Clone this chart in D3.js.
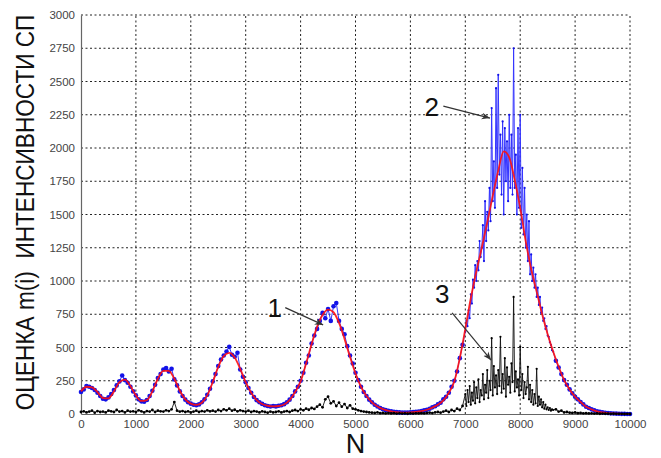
<!DOCTYPE html>
<html>
<head>
<meta charset="utf-8">
<script src="https://cdn.jsdelivr.net/npm/d3@7"></script>
<style>
  body { margin: 0; background: #fff; }
  svg { display: block; font-family: Arial, "Liberation Sans", sans-serif; }
</style>
</head>
<body>
<div id="chart"></div>
<script>
// axis ticks
const xTicks = [0, 1000, 2000, 3000, 4000, 5000, 6000, 7000, 8000, 9000, 10000];
const yTicks = [0, 250, 500, 750, 1000, 1250, 1500, 1750, 2000, 2250, 2500, 2750, 3000];

// curve 1 (red) - true intensity, one value every 100 samples
const redStep = 100;
const redValues = [
  170, 205, 200, 165, 120, 118, 170, 240, 258, 210,
  140, 98, 105, 170, 265, 325, 325, 265, 175, 110,
  78, 68, 85, 140, 240, 355, 435, 460, 425, 340,
  240, 160, 105, 75, 62, 58, 60, 72, 105, 165,
  245, 380, 525, 655, 745, 785, 765, 685, 565, 430,
  305, 205, 135, 88, 56, 36, 24, 16, 12, 10,
  12, 16, 22, 32, 48, 70, 102, 160, 245, 420,
  640, 870, 1070, 1250, 1440, 1640, 1830, 1975, 1930, 1760,
  1550, 1300, 1090, 920, 750, 600, 470, 355, 255, 185,
  130, 90, 55, 35, 20, 12, 7, 4, 2, 1,
  0
];

// curve 2 (blue) - estimate, one value every 50 samples
const blueStep = 50;
const blueValues = [
  165, 185, 210, 205, 195, 180, 160, 135, 115, 110,
  125, 150, 180, 215, 245, 290, 255, 235, 205, 170,
  140, 110, 95, 92, 105, 135, 175, 220, 270, 300,
  335, 345, 320, 340, 260, 215, 170, 135, 108, 88,
  78, 70, 66, 72, 88, 110, 145, 190, 245, 300,
  360, 410, 440, 470, 505, 445, 430, 460, 335, 280,
  238, 195, 160, 128, 104, 88, 76, 66, 60, 56,
  60, 57, 62, 66, 74, 88, 108, 135, 170, 205,
  250, 310, 385, 440, 530, 590, 640, 700, 760, 720,
  790, 700, 810, 835, 700, 640, 600, 510, 440, 380,
  310, 255, 205, 165, 135, 108, 88, 70, 56, 45,
  36, 29, 24, 20, 16, 14, 12, 11, 10, 11,
  12, 14, 16, 19, 22, 27, 32, 40, 50, 58,
  72, 85, 110, 130, 160, 205, 250, 320, 420, 520,
  600, 760, 840, 1010, 1050, 1180, 1300, 1220, 1600, 1520,
  2250, 1700, 2450, 1900, 2150, 1500, 2100, 1750, 2750, 1600,
  2200, 1450, 1850, 1300, 1400, 1050, 950, 820, 760, 640,
  600, 520, 470, 400, 350, 300, 255, 220, 185, 155,
  130, 110, 90, 72, 55, 45, 35, 27, 20, 16,
  12, 9, 7, 5, 4, 3, 2, 1, 1, 0,
  0
];

// denser samples of the blue estimate inside the main peak (7000..8600, every 20)
const peakStart = 7000, peakEnd = 8600, peakStep = 20;
const bluePeakValues = [
  620, 700, 660, 780, 720, 900, 830, 1010, 950, 1120,
  1000, 1150, 1080, 1300, 1180, 1250, 1420, 1150, 1600, 1300,
  1520, 1380, 1700, 1450, 2300, 1600, 1900, 1550, 2450, 1700,
  2550, 1800, 2100, 1650, 2200, 1500, 2150, 1750, 2050, 1600,
  2250, 1700, 2100, 1650, 2750, 1700, 1950, 1500, 2150, 1550,
  2250, 1400, 1850, 1350, 1700, 1250, 1500, 1150, 1450, 1050,
  1200, 1000, 1100, 950, 1050, 880, 950, 820, 880, 760,
  800, 700, 720, 640, 660, 590, 580, 540, 520, 480,
  470
];

// curve 3 (black) - estimation error, one value every 50 samples
const blackStep = 50;
const blackValues = [
  15, 20, 12, 18, 25, 10, 22, 15, 18, 12,
  25, 20, 15, 30, 18, 22, 12, 25, 18, 20,
  15, 28, 20, 12, 22, 18, 30, 15, 25, 20,
  18, 28, 22, 35, 90, 25, 18, 22, 15, 20,
  12, 18, 25, 15, 22, 18, 28, 20, 25, 18,
  30, 22, 35, 28, 40, 25, 32, 20, 28, 22,
  18, 25, 15, 22, 18, 12, 20, 15, 10, 18,
  12, 15, 20, 12, 18, 22, 15, 25, 30, 22,
  35, 28, 40, 32, 45, 38, 55, 70, 50, 110,
  130, 80, 95, 60, 85, 55, 75, 45, 65, 40,
  35, 28, 22, 18, 15, 12, 10, 8, 12, 6,
  8, 5, 7, 4, 6, 3, 5, 3, 4, 2,
  4, 3, 5, 4, 6, 5, 8, 10, 7, 12,
  15, 10, 18, 25, 15, 30, 22, 40, 30, 60,
  160, 120, 200, 90, 250, 140, 220, 120, 300, 180,
  570, 200, 320, 580, 240, 420, 200, 330, 880, 260,
  505, 200, 300, 355, 140, 250, 110, 340, 90, 150,
  50, 70, 30, 35, 18, 25, 12, 15, 10, 8,
  12, 6, 8, 5, 6, 4, 5, 3, 4, 2,
  3, 2, 2, 1, 2, 1, 1, 1, 0, 1,
  0
];

// denser samples of the black error inside the main peak (7000..8600, every 20)
const blackPeakValues = [
  150, 60, 180, 90, 210, 70, 160, 100, 240, 80,
  200, 120, 260, 90, 180, 140, 300, 110, 220, 160,
  330, 120, 250, 180, 570, 140, 360, 200, 290, 150,
  330, 210, 580, 160, 300, 190, 420, 130, 350, 220,
  280, 160, 380, 240, 880, 170, 320, 200, 260, 140,
  505, 180, 300, 120, 240, 150, 200, 355, 110, 220,
  90, 180, 70, 150, 80, 340, 60, 130, 70, 110,
  50, 90, 40, 70, 35, 50, 30, 45, 25, 35,
  30
];

// callouts, in data units
const callouts = [
  {label: '1', tx: 3530, ty: 800, x1: 3720, y1: 800, x2: 4410, y2: 670},
  {label: '2', tx: 6390, ty: 2310, x1: 6600, y1: 2315, x2: 7450, y2: 2225},
  {label: '3', tx: 6580, ty: 900, x1: 6760, y1: 760, x2: 7470, y2: 405}
];

const width = 661, height = 458;
const margin = {top: 15, right: 31, bottom: 44, left: 81};

const svg = d3.select('#chart').append('svg')
  .attr('width', width)
  .attr('height', height);

const x = d3.scaleLinear().domain([0, 10000]).range([margin.left, width - margin.right]);
const y = d3.scaleLinear().domain([0, 3000]).range([height - margin.bottom, margin.top]);

// dotted grid
svg.append('g')
  .selectAll('line')
  .data(xTicks.slice(1))
  .join('line')
  .attr('x1', d => x(d)).attr('x2', d => x(d))
  .attr('y1', y(0)).attr('y2', y(3000))
  .attr('stroke', '#222').attr('stroke-width', 1)
  .attr('stroke-dasharray', '2,2.5');

svg.append('g')
  .selectAll('line')
  .data(yTicks.slice(1))
  .join('line')
  .attr('x1', x(0)).attr('x2', x(10000))
  .attr('y1', d => y(d)).attr('y2', d => y(d))
  .attr('stroke', '#222').attr('stroke-width', 1)
  .attr('stroke-dasharray', '2,2.5');

// axes
const xAxis = svg.append('g')
  .attr('transform', 'translate(0,' + y(0) + ')')
  .call(d3.axisBottom(x).tickValues(xTicks).tickSize(0).tickPadding(6).tickFormat(d3.format('d')));
const yAxis = svg.append('g')
  .attr('transform', 'translate(' + x(0) + ',0)')
  .call(d3.axisLeft(y).tickValues(yTicks).tickSize(0).tickPadding(6).tickFormat(d3.format('d')));

[xAxis, yAxis].forEach(g => {
  g.select('.domain').attr('stroke', '#666').attr('stroke-width', 1.2);
  g.selectAll('text').attr('fill', '#444').style('font-size', '11.5px');
});

// series: coarse samples outside the main peak, dense samples inside it
// third field marks the dense ones
function merge(values, step, peakValues) {
  const outer = values.map((v, i) => [i * step, v, false])
    .filter(d => d[0] < peakStart || d[0] > peakEnd);
  const inner = peakValues.map((v, i) => [peakStart + i * peakStep, v, true]);
  return outer.concat(inner).sort((a, b) => a[0] - b[0]);
}

const redData = redValues.map((v, i) => [i * redStep, v]);
const blueData = merge(blueValues, blueStep, bluePeakValues);
const blackData = merge(blackValues, blackStep, blackPeakValues);

const line = d3.line().x(d => x(d[0])).y(d => y(d[1]));

svg.append('path')
  .datum(blueData)
  .attr('d', line)
  .attr('fill', 'none')
  .attr('stroke', '#3535ff')
  .attr('stroke-width', 1);

svg.append('g')
  .selectAll('circle')
  .data(blueData)
  .join('circle')
  .attr('cx', d => x(d[0]))
  .attr('cy', d => y(d[1]))
  .attr('r', d => d[2] ? 1.1 : 2.3)
  .attr('fill', '#1212e8');

svg.append('path')
  .datum(redData)
  .attr('d', line.curve(d3.curveMonotoneX))
  .attr('fill', 'none')
  .attr('stroke', '#ff1010')
  .attr('stroke-width', 1.8)
  .attr('stroke-opacity', 0.9);

line.curve(d3.curveLinear);

svg.append('path')
  .datum(blackData)
  .attr('d', line)
  .attr('fill', 'none')
  .attr('stroke', '#111')
  .attr('stroke-width', 0.9);

svg.append('g')
  .selectAll('circle')
  .data(blackData)
  .join('circle')
  .attr('cx', d => x(d[0]))
  .attr('cy', d => y(d[1]))
  .attr('r', d => d[2] ? 1.1 : 1.4)
  .attr('fill', '#000');

// callouts with arrows
svg.append('defs').append('marker')
  .attr('id', 'arrow')
  .attr('viewBox', '0 0 10 10')
  .attr('refX', 10).attr('refY', 5)
  .attr('markerWidth', 7).attr('markerHeight', 7)
  .attr('orient', 'auto')
  .append('path')
  .attr('d', 'M0,1 L10,5 L0,9 L3,5 z')
  .attr('fill', '#333');

const co = svg.append('g');
co.selectAll('line')
  .data(callouts)
  .join('line')
  .attr('x1', d => x(d.x1)).attr('y1', d => y(d.y1))
  .attr('x2', d => x(d.x2)).attr('y2', d => y(d.y2))
  .attr('stroke', '#333').attr('stroke-width', 1.2)
  .attr('marker-end', 'url(#arrow)');
co.selectAll('text')
  .data(callouts)
  .join('text')
  .attr('x', d => x(d.tx)).attr('y', d => y(d.ty))
  .attr('text-anchor', 'middle')
  .attr('dominant-baseline', 'central')
  .style('font-size', '26px')
  .attr('fill', '#111')
  .text(d => d.label);

// axis titles
svg.append('text')
  .attr('x', (x(0) + x(10000)) / 2)
  .attr('y', 453)
  .attr('text-anchor', 'middle')
  .style('font-size', '27px')
  .attr('fill', '#111')
  .text('N');

// y title is condensed along its length to fit the plot height
const yTitle = svg.append('text')
  .attr('text-anchor', 'middle')
  .style('font-size', '25px')
  .style('white-space', 'pre')
  .attr('fill', '#111')
  .text('ОЦЕНКА m(i)  ИНТЕНСИВНОСТИ СП');
const squeeze = 396 / yTitle.node().getComputedTextLength();
yTitle.attr('transform', 'translate(34,' + ((y(0) + y(3000)) / 2 - 2) + ') rotate(-90) scale(' + squeeze + ',1)');
</script>
</body>
</html>
